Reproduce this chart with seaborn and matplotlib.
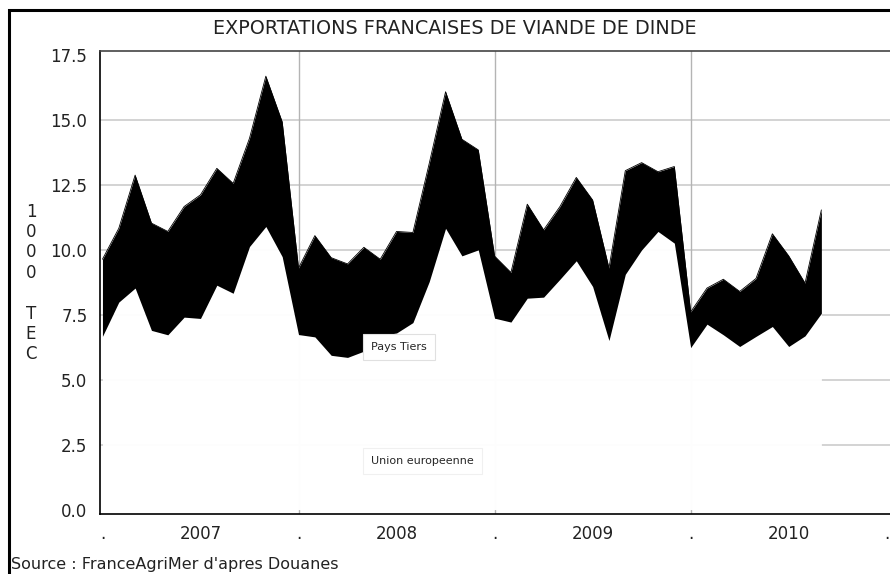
import numpy as np
import matplotlib
matplotlib.use("Agg")
import matplotlib.pyplot as plt
import seaborn as sns
from matplotlib.patches import Rectangle

# monthly exports, Jan 2007 -> Sep 2010 (1000 TEC)
total = [9.64, 10.83, 12.88, 11.03, 10.71, 11.67, 12.12, 13.14, 12.56, 14.30, 16.69, 14.93,
         9.30, 10.55, 9.70, 9.46, 10.10, 9.64, 10.71, 10.67, 13.33, 16.09, 14.26, 13.85,
         9.76, 9.13, 11.76, 10.77, 11.67, 12.79, 11.92, 9.30, 13.05, 13.36, 13.01, 13.21,
         7.61, 8.53, 8.87, 8.40, 8.90, 10.62, 9.77, 8.72, 11.54]
union_eu = [6.67, 7.99, 8.53, 6.90, 6.73, 7.41, 7.36, 8.64, 8.33, 10.13, 10.90, 9.74,
            6.74, 6.65, 5.94, 5.86, 6.10, 6.70, 6.80, 7.20, 8.78, 10.83, 9.77, 10.00,
            7.37, 7.22, 8.14, 8.18, 8.87, 9.58, 8.59, 6.51, 9.06, 10.00, 10.71, 10.26,
            6.24, 7.14, 6.73, 6.28, 6.67, 7.05, 6.28, 6.69, 7.56]
months = list(range(len(total)))

year_ticks = [6, 18, 30, 42]
year_labels = ["2007", "2008", "2009", "2010"]
bound_ticks = [0, 12, 24, 36, 48]
y_ticks = [0, 2.5, 5, 7.5, 10, 12.5, 15, 17.5]

sns.set_style("white")
plt.rcParams["font.family"] = ["DejaVu Sans"]

fig = plt.figure(figsize=(8.9, 5.74), dpi=100)
ax = fig.add_axes([100 / 890, 60 / 574, 790 / 890, 463.3 / 574])

# grid behind the fills
for yv in y_ticks[1:-1]:
    ax.axhline(yv, color="#c8c8c8", lw=1.1, zorder=0)
for xv in bound_ticks[1:-1]:
    ax.axvline(xv, color="#b4b4b4", lw=1.0, zorder=0)

ax.fill_between(months, 0, union_eu, color="white", alpha=0.98, lw=0, zorder=2)
ax.fill_between(months, union_eu, total, color="black", lw=0, zorder=3)
sns.lineplot(x=months, y=total, color="black", lw=0.6, ax=ax, zorder=4)

ax.set_xlim(-0.15, 48.2)
ax.set_ylim(-0.17, 17.67)

ax.set_xticks(bound_ticks)
ax.set_xticklabels(["."] * len(bound_ticks))
ax.set_xticks(year_ticks, minor=True)
ax.set_xticklabels(year_labels, minor=True)
ax.tick_params(axis="x", which="both", direction="out", length=5, width=1,
               color="black", labelsize=12, pad=3, labelcolor="#222222")

ax.set_yticks(y_ticks)
ax.set_yticklabels([f"{v:.1f}" for v in y_ticks])
ax.set_yticks(np.arange(1.25, 17.5, 2.5), minor=True)
ax.tick_params(axis="y", which="major", direction="out", length=6, width=1,
               color="black", labelsize=12, pad=3, labelcolor="#222222")
ax.tick_params(axis="y", which="minor", direction="out", length=3, width=1, color="black")

for side in ["left", "bottom"]:
    ax.spines[side].set_color("black")
    ax.spines[side].set_linewidth(1.2)
ax.spines["top"].set_color("#444444")
ax.spines["top"].set_linewidth(1.2)
ax.spines["right"].set_visible(False)

ax.text(16.45, 6.27, "Pays Tiers", fontsize=8, ha="left", va="center", zorder=5,
        bbox=dict(boxstyle="square,pad=0.7", fc="white", ec="#e0e0e0", lw=0.8))
ax.text(16.45, 1.88, "Union europeenne", fontsize=8, ha="left", va="center", zorder=5,
        bbox=dict(boxstyle="square,pad=0.7", fc="white", ec="#f0f0f0", lw=0.8))

fig.text(455 / 890, 1 - 28 / 574, "EXPORTATIONS FRANCAISES DE VIANDE DE DINDE",
         ha="center", va="center", fontsize=13.8, color="#222222")
fig.text(31 / 890, 1 - 283 / 574, "\n".join("1000 TEC"), ha="center", va="center",
         fontsize=12, color="#222222", linespacing=1.17)
fig.text(11 / 890, 1 - 565 / 574, "Source : FranceAgriMer d'apres Douanes",
         ha="left", va="center", fontsize=11.5, color="#222222")

# outer frame (runs off the right and bottom edges)
fig.patches.append(Rectangle((9 / 890, -0.1), 1.2, 1 - 10 / 574 + 0.1,
                             transform=fig.transFigure, fill=False,
                             ec="black", lw=2.2))

fig.savefig("out.png", dpi=100)
